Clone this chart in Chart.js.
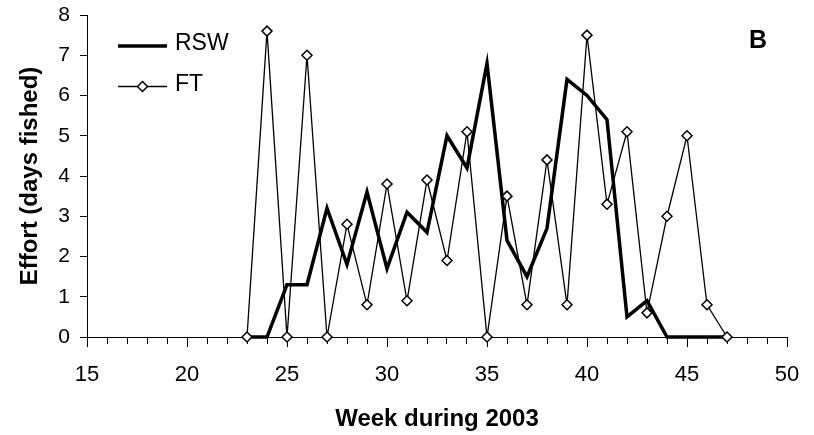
<!DOCTYPE html>
<html>
<head>
<meta charset="utf-8">
<script src="https://cdn.jsdelivr.net/npm/chart.js@4/dist/chart.umd.min.js"></script>
<style>
html,body{margin:0;padding:0;background:#fff;}
#wrap{width:814px;height:435px;position:relative;}
</style>
</head>
<body>
<div id="wrap"><canvas id="c"></canvas></div>
<script>
const weeks = [23,24,25,26,27,28,29,30,31,32,33,34,35,36,37,38,39,40,41,42,43,44,45,46,47];
const rsw   = [0,0,1.3,1.3,3.2,1.8,3.6,1.7,3.1,2.6,5.0,4.2,6.8,2.4,1.5,2.7,6.4,6.0,5.4,0.5,0.9,0,0,0,0];
const ft    = [0,7.6,0,7.0,0,2.8,0.8,3.8,0.9,3.9,1.9,5.1,0,3.5,0.8,4.4,0.8,7.5,3.3,5.1,0.6,3.0,5.0,0.8,0];
const seriesNames = ['RSW','FT'];
const xTitle = 'Week during 2003';
const yTitle = 'Effort (days fished)';
const panelLabel = 'B';

const FONT = "'Liberation Sans', Arial, sans-serif";
Chart.defaults.font.family = FONT;
Chart.defaults.color = '#000';

const toXY = arr => weeks.map((w,i)=>({x:w,y:arr[i]}));

const legendPlugin = {
  id:'customLegend',
  afterDraw(chart){
    const ctx = chart.ctx;
    ctx.save();
    const ds = chart.data.datasets;
    const x0 = 118, x1 = 167, tx = 175;
    const ys = [46, 86.5];
    ds.forEach((d,i)=>{
      const y = ys[i];
      ctx.strokeStyle = d.borderColor;
      ctx.lineWidth = d.borderWidth;
      ctx.beginPath(); ctx.moveTo(x0,y); ctx.lineTo(x1,y); ctx.stroke();
      if (d.pointRadius>0){
        ctx.fillStyle = d.pointBackgroundColor;
        ctx.strokeStyle = d.pointBorderColor;
        ctx.lineWidth = d.pointBorderWidth;
        ctx.beginPath();
        const r = d.pointRadius, cx=(x0+x1)/2;
        ctx.moveTo(cx-r,y);ctx.lineTo(cx,y-r);ctx.lineTo(cx+r,y);ctx.lineTo(cx,y+r);ctx.closePath();
        ctx.fill();ctx.stroke();
      }
      ctx.fillStyle='#000';
      ctx.font = "23px " + FONT;
      ctx.textBaseline='middle';
      ctx.textAlign='left';
      ctx.fillText(d.label, tx, y-2);
    });
    ctx.font = "bold 25px " + FONT;
    ctx.textAlign='center';
    ctx.fillText(panelLabel, 758, 41);
    // longer major ticks on x axis
    const xs = chart.scales.x;
    ctx.strokeStyle='#000'; ctx.lineWidth=1;
    for (let v=15; v<=50; v+=5){
      const px = Math.round(xs.getPixelForValue(v))+0.5;
      ctx.beginPath(); ctx.moveTo(px, xs.top+6); ctx.lineTo(px, xs.top+10); ctx.stroke();
    }
    ctx.restore();
  }
};

new Chart(document.getElementById('c'), {
  type:'line',
  data:{
    datasets:[
      {label:seriesNames[0], data:toXY(rsw), borderColor:'#000', borderWidth:3.5, pointRadius:0,
       tension:0, borderJoinStyle:'miter', fill:false, clip:false, order:2},
      {label:seriesNames[1], data:toXY(ft), borderColor:'#000', borderWidth:1.3, pointRadius:5,
       pointStyle:'rectRot', pointBackgroundColor:'#fff', pointBorderColor:'#000', pointBorderWidth:1.5,
       tension:0, fill:false, clip:false, order:1}
    ]
  },
  options:{
    responsive:true, maintainAspectRatio:false, animation:false,
    layout:{padding:{top:15,right:27,left:0,bottom:0}},
    plugins:{legend:{display:false}, tooltip:{enabled:false}},
    scales:{
      x:{type:'linear', min:15, max:50,
        border:{display:true,color:'#000',width:1},
        grid:{display:true, drawOnChartArea:false, drawTicks:true, tickLength:7, tickColor:'#000', tickWidth:1},
        ticks:{stepSize:1, autoSkip:false, maxRotation:0, padding:18, font:{size:22},
          callback:v => (v%5===0 ? String(v) : '')},
        title:{display:true, text:xTitle, font:{size:24, weight:'bold'}, padding:{top:0,bottom:1}},
        afterFit(s){ s.height = 98; s.paddingLeft = 0; s.paddingRight = 0; }
      },
      y:{min:0, max:8,
        border:{display:true,color:'#000',width:1},
        grid:{display:true, drawOnChartArea:false, drawTicks:true, tickLength:7, tickColor:'#000', tickWidth:1},
        ticks:{stepSize:1, padding:10, font:{size:21}},
        title:{display:true, text:yTitle, font:{size:24, weight:'bold'}, padding:{top:16,bottom:0}},
        afterFit(s){ s.width = 87; s.paddingTop = 0; s.paddingBottom = 0; }
      }
    }
  },
  plugins:[legendPlugin]
});
</script>
</body>
</html>
